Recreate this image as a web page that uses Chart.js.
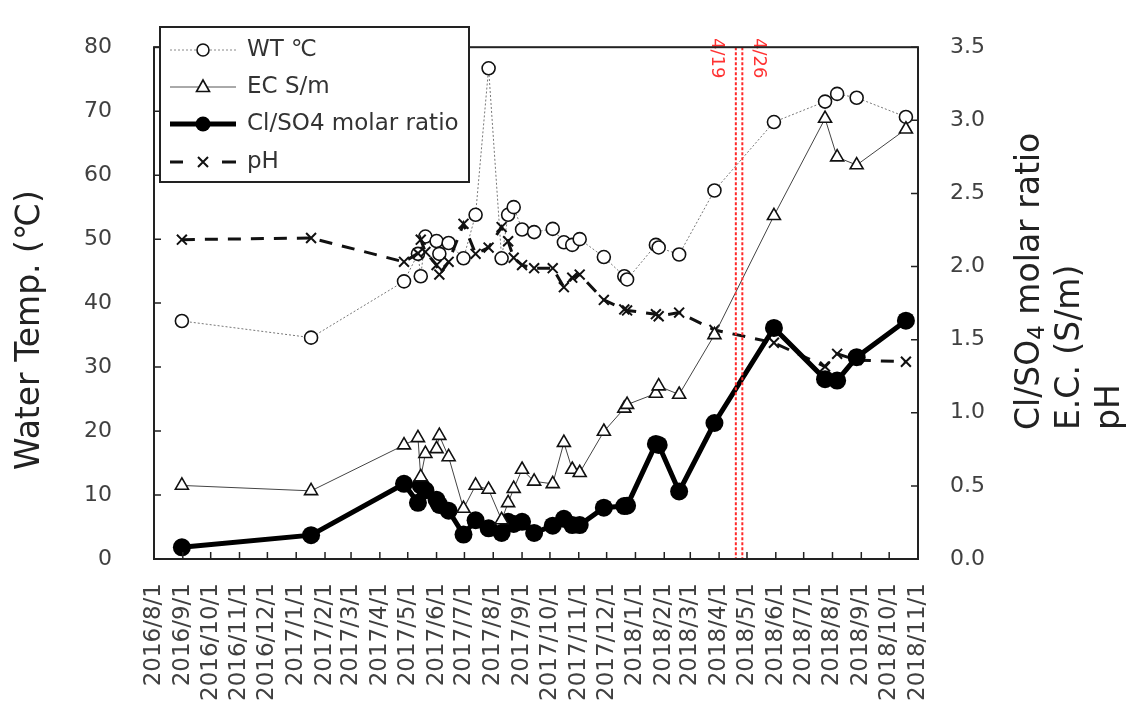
<!DOCTYPE html>
<html>
<head>
<meta charset="utf-8">
<script src="https://cdn.jsdelivr.net/npm/chart.js@4.4.0/dist/chart.umd.min.js"></script>
<style>
body { margin: 0; background: #fff; }
#wrap { width: 1132px; height: 705px; }
</style>
</head>
<body>
<div id="wrap"><canvas id="chart" width="1132" height="705"></canvas></div>
<script>
//.. sampling dates and values
const sampleDates = ['2016/8/31', '2017/1/17', '2017/4/27', '2017/5/12', '2017/5/15', '2017/5/20', '2017/6/1',
    '2017/6/4', '2017/6/14', '2017/6/30', '2017/7/13', '2017/7/27', '2017/8/10', '2017/8/17', '2017/8/23',
    '2017/9/1', '2017/9/14', '2017/10/4', '2017/10/16', '2017/10/25', '2017/11/2', '2017/11/28', '2017/12/20',
    '2017/12/23', '2018/1/23', '2018/1/26', '2018/2/17', '2018/3/27', '2018/5/30', '2018/7/24', '2018/8/6',
    '2018/8/27', '2018/10/19'];
const waterTemp = [37.2, 34.6, 43.4, 47.7, 44.2, 50.4, 49.7, 47.7, 49.4, 47.0, 53.8, 76.7, 47.0, 53.8, 55.0,
    51.5, 51.1, 51.6, 49.5, 49.1, 50.0, 47.2, 44.2, 43.7, 49.1, 48.7, 47.6, 57.6, 68.3, 71.5, 72.7, 72.1, 69.1];
const ecValues = [0.503, 0.466, 0.779, 0.828, 0.561, 0.72, 0.753, 0.844, 0.698, 0.345, 0.503, 0.475, 0.267,
    0.384, 0.481, 0.612, 0.531, 0.514, 0.796, 0.612, 0.59, 0.872, 1.03, 1.056, 1.132, 1.182, 1.125, 1.533,
    2.347, 3.012, 2.748, 2.694, 2.939];
const clso4Ratio = [0.080, 0.163, 0.514, 0.384, 0.503, 0.470, 0.405, 0.37, 0.330, 0.167, 0.265, 0.210, 0.178,
    0.254, 0.24, 0.254, 0.178, 0.228, 0.275, 0.232, 0.232, 0.351, 0.362, 0.365, 0.787, 0.78, 0.462, 0.93,
    1.58, 1.23, 1.22, 1.38, 1.63];
const phValues = [2.184, 2.195, 2.032, 2.09, 2.184, 2.1, 2.01, 1.945, 2.032, 2.292, 2.087, 2.13, 2.27, 2.173,
    2.06, 2.01, 1.989, 1.989, 1.859, 1.924, 1.945, 1.772, 1.707, 1.70, 1.674, 1.66, 1.685, 1.566, 1.479,
    1.316, 1.403, 1.36, 1.349];

const monthTicks = ['2016/8/1', '2016/9/1', '2016/10/1', '2016/11/1', '2016/12/1', '2017/1/1', '2017/2/1',
    '2017/3/1', '2017/4/1', '2017/5/1', '2017/6/1', '2017/7/1', '2017/8/1', '2017/9/1', '2017/10/1',
    '2017/11/1', '2017/12/1', '2018/1/1', '2018/2/1', '2018/3/1', '2018/4/1', '2018/5/1', '2018/6/1',
    '2018/7/1', '2018/8/1', '2018/9/1', '2018/10/1', '2018/11/1'];

const eventDates = ['2018/4/19', '2018/4/26'];
const eventLabels = ['4/19', '4/26'];

const legendLabels = ['WT ℃', 'EC S/m', 'Cl/SO4 molar ratio', 'pH'];

//.. days since 2016/8/1
function dayNum(s) {
    const p = s.split('/').map(Number);
    return (Date.UTC(p[0], p[1] - 1, p[2]) - Date.UTC(2016, 7, 1)) / 86400000;
}
const tickDays = monthTicks.map(dayNum);

function pts(vals) {
    return vals.map(function (v, i) { return {x: dayNum(sampleDates[i]), y: v}; });
}

const FONT = "'DejaVu Sans', Verdana, sans-serif";

//.. marker helpers for the legend
function marker(ctx, style, x, y) {
    ctx.save();
    ctx.setLineDash([]);
    ctx.strokeStyle = '#111';
    if (style === 'circle') {
        ctx.lineWidth = 1.6;
        ctx.fillStyle = '#fff';
        ctx.beginPath(); ctx.arc(x, y, 6, 0, Math.PI * 2); ctx.fill(); ctx.stroke();
    } else if (style === 'triangle') {
        ctx.lineWidth = 1.6;
        ctx.fillStyle = '#fff';
        ctx.beginPath();
        ctx.moveTo(x, y - 7); ctx.lineTo(x + 6.5, y + 4.5); ctx.lineTo(x - 6.5, y + 4.5); ctx.closePath();
        ctx.fill(); ctx.stroke();
    } else if (style === 'dot') {
        ctx.fillStyle = '#000';
        ctx.beginPath(); ctx.arc(x, y, 7.5, 0, Math.PI * 2); ctx.fill();
    } else {
        ctx.lineWidth = 2;
        ctx.beginPath();
        ctx.moveTo(x - 5, y - 5); ctx.lineTo(x + 5, y + 5);
        ctx.moveTo(x + 5, y - 5); ctx.lineTo(x - 5, y + 5);
        ctx.stroke();
    }
    ctx.restore();
}

const decor = {
    id: 'decor',
    afterDatasetsDraw(chart) {
        const ctx = chart.ctx, a = chart.chartArea, sx = chart.scales.x;
        ctx.save();
        //.. eruption date lines
        eventDates.forEach(function (d, i) {
            const x = sx.getPixelForValue(dayNum(d));
            ctx.strokeStyle = '#ff2a2a';
            ctx.lineWidth = 2;
            ctx.setLineDash([3, 2]);
            ctx.beginPath(); ctx.moveTo(x, a.top); ctx.lineTo(x, a.bottom); ctx.stroke();
            ctx.setLineDash([]);
            ctx.save();
            ctx.translate(i === 0 ? x - 19 : x + 16, 38);
            ctx.rotate(Math.PI / 2);
            ctx.fillStyle = '#ff3333';
            ctx.font = '18px ' + FONT;
            ctx.textAlign = 'left';
            ctx.textBaseline = 'middle';
            ctx.fillText(eventLabels[i], 0, 0);
            ctx.restore();
        });
        ctx.restore();
    },
    afterDraw(chart) {
        const ctx = chart.ctx, a = chart.chartArea, s = chart.scales;
        ctx.save();
        //.. frame
        ctx.strokeStyle = '#222';
        ctx.lineWidth = 2;
        ctx.strokeRect(a.left, a.top, a.right - a.left, a.bottom - a.top);

        //.. inward tick marks
        ctx.lineWidth = 1.5;
        ctx.beginPath();
        s.yL.ticks.forEach(function (t) {
            const y = s.yL.getPixelForValue(t.value);
            ctx.moveTo(a.left, y); ctx.lineTo(a.left + 7, y);
        });
        s.yR.ticks.forEach(function (t) {
            const y = s.yR.getPixelForValue(t.value);
            ctx.moveTo(a.right, y); ctx.lineTo(a.right - 7, y);
        });
        s.x.ticks.forEach(function (t) {
            const x = s.x.getPixelForValue(t.value);
            ctx.moveTo(x, a.bottom); ctx.lineTo(x, a.bottom - 7);
        });
        ctx.stroke();

        //.. axis titles
        ctx.fillStyle = '#222';
        ctx.font = '33px ' + FONT;
        ctx.textBaseline = 'middle';
        ctx.save();
        ctx.translate(30, 330);
        ctx.rotate(-Math.PI / 2);
        ctx.textAlign = 'center';
        ctx.fillText('Water Temp. (℃)', 0, 0);
        ctx.restore();

        ctx.textAlign = 'left';
        ctx.save();
        ctx.translate(1030, 430);
        ctx.rotate(-Math.PI / 2);
        let w = 0;
        ctx.fillText('Cl/SO', 0, 0);
        w = ctx.measureText('Cl/SO').width;
        ctx.font = '23px ' + FONT;
        ctx.fillText('4', w, 8);
        w += ctx.measureText('4').width;
        ctx.font = '33px ' + FONT;
        ctx.fillText(' molar ratio', w, 0);
        ctx.restore();
        ctx.save();
        ctx.translate(1070, 430);
        ctx.rotate(-Math.PI / 2);
        ctx.fillText('E.C. (S/m)', 0, 0);
        ctx.restore();
        ctx.save();
        ctx.translate(1110, 430);
        ctx.rotate(-Math.PI / 2);
        ctx.fillText('pH', 0, 0);
        ctx.restore();

        //.. legend box
        ctx.fillStyle = '#fff';
        ctx.fillRect(160, 27, 309, 155);
        ctx.strokeStyle = '#222';
        ctx.lineWidth = 2;
        ctx.strokeRect(160, 27, 309, 155);
        const rows = [50, 87, 124, 162];
        const styles = ['circle', 'triangle', 'dot', 'cross'];
        rows.forEach(function (y, i) {
            ctx.save();
            if (i === 0) {
                ctx.strokeStyle = '#888'; ctx.lineWidth = 1; ctx.setLineDash([2, 2]);
                ctx.beginPath(); ctx.moveTo(170, y); ctx.lineTo(236, y); ctx.stroke();
            } else if (i === 1) {
                ctx.strokeStyle = '#555'; ctx.lineWidth = 1;
                ctx.beginPath(); ctx.moveTo(170, y); ctx.lineTo(236, y); ctx.stroke();
            } else if (i === 2) {
                ctx.strokeStyle = '#000'; ctx.lineWidth = 5;
                ctx.beginPath(); ctx.moveTo(170, y); ctx.lineTo(236, y); ctx.stroke();
            } else {
                ctx.strokeStyle = '#111'; ctx.lineWidth = 3;
                ctx.beginPath(); ctx.moveTo(170, y); ctx.lineTo(183, y);
                ctx.moveTo(222, y); ctx.lineTo(236, y); ctx.stroke();
            }
            ctx.restore();
            marker(ctx, styles[i], 203, y);
            ctx.fillStyle = '#333';
            ctx.font = '23px ' + FONT;
            ctx.textAlign = 'left';
            ctx.textBaseline = 'middle';
            ctx.fillText(legendLabels[i], 247, y);
        });
        ctx.restore();
    }
};

const ctx = document.getElementById('chart').getContext('2d');
new Chart(ctx, {
    type: 'line',
    data: {
        datasets: [{
            label: legendLabels[0],
            data: pts(waterTemp),
            yAxisID: 'yL',
            borderColor: '#777',
            borderWidth: 1,
            borderDash: [2, 2],
            pointStyle: 'circle',
            pointRadius: 6.5,
            pointBorderWidth: 1.6,
            pointBorderColor: '#111',
            pointBackgroundColor: '#fff',
            order: 4
        }, {
            label: legendLabels[1],
            data: pts(ecValues),
            yAxisID: 'yR',
            borderColor: '#444',
            borderWidth: 1,
            pointStyle: 'triangle',
            pointRadius: 7.5,
            pointBorderWidth: 1.6,
            pointBorderColor: '#111',
            pointBackgroundColor: '#fff',
            order: 1
        }, {
            label: legendLabels[2],
            data: pts(clso4Ratio),
            yAxisID: 'yR',
            borderColor: '#000',
            borderWidth: 5,
            pointStyle: 'circle',
            pointRadius: 9,
            pointBorderWidth: 0,
            pointBackgroundColor: '#000',
            order: 2
        }, {
            label: legendLabels[3],
            data: pts(phValues),
            yAxisID: 'yR',
            borderColor: '#111',
            borderWidth: 3,
            borderDash: [13, 10],
            pointStyle: 'crossRot',
            pointRadius: 7,
            pointBorderWidth: 2,
            pointBorderColor: '#111',
            order: 3
        }]
    },
    options: {
        responsive: false,
        animation: false,
        layout: {padding: {top: 21, left: 0, right: 0, bottom: 0}},
        plugins: {legend: {display: false}, tooltip: {enabled: false}},
        scales: {
            x: {
                type: 'linear',
                min: 0,
                max: tickDays[tickDays.length - 1],
                afterBuildTicks: function (s) { s.ticks = tickDays.map(function (v) { return {value: v}; }); },
                afterFit: function (s) { s.height = 146; },
                grid: {display: false},
                border: {display: false},
                ticks: {
                    autoSkip: false,
                    minRotation: 90,
                    maxRotation: 90,
                    padding: 16,
                    color: '#404040',
                    font: {family: FONT, size: 23},
                    callback: function (v) { return monthTicks[tickDays.indexOf(v)]; }
                }
            },
            yL: {
                position: 'left',
                min: 0,
                max: 80,
                afterFit: function (s) { s.width = 154; },
                grid: {display: false},
                border: {display: false},
                ticks: {stepSize: 10, padding: 34, color: '#404040', font: {family: FONT, size: 22}}
            },
            yR: {
                position: 'right',
                min: 0,
                max: 3.5,
                afterFit: function (s) { s.width = 214; },
                grid: {display: false},
                border: {display: false},
                ticks: {
                    stepSize: 0.5, padding: 24, color: '#404040', font: {family: FONT, size: 22},
                    callback: function (v) { return v.toFixed(1); }
                }
            }
        }
    },
    plugins: [decor]
});
</script>
</body>
</html>
